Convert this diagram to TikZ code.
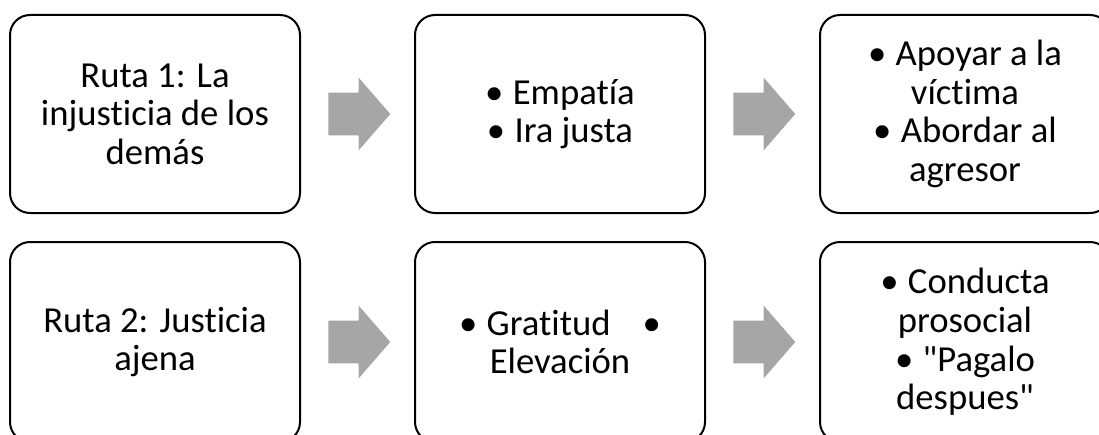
\documentclass[tikz,border=0pt]{standalone}
\usepackage{fontspec}
\setmainfont{Carlito}[Ligatures={NoCommon}]
\usetikzlibrary{shapes.arrows,calc}
\definecolor{arrowgray}{HTML}{A6A6A6}

\begin{document}
\begin{tikzpicture}[x=0.75pt,y=-0.75pt,node distance=303.75pt,
                    ruta node/.style={rectangle,draw,rounded corners=15pt,line width=1.5pt,
                      minimum width=217.5pt,minimum height=148.5pt,align=center,
                      font=\fontsize{27.5pt}{28.9pt}\selectfont},
                    gray arrow/.style={single arrow,fill=arrowgray,inner sep=0pt,anchor=tail,
                      minimum height=46.5pt,minimum width=54pt,
                      single arrow head extend=11.25pt,single arrow tip angle=98}]
  \useasboundingbox (0,0) rectangle (1099,435);
  % route 1
  \node[ruta node] (r1a) at (155,114) {Ruta 1: La\\injusticia de los\\demás};
  \node[ruta node] (r1b) [right of=r1a] {\textbullet\hspace{7pt}Empatía\\\textbullet\hspace{7pt}Ira justa};
  \node[ruta node] (r1c) [right of=r1b] {\textbullet\hspace{7pt}Apoyar a la\\víctima\\\textbullet\hspace{7pt}Abordar al\\agresor};
  % route 2
  \node[ruta node,minimum height=150pt] (r2a) [below of=r1a,node distance=171pt] {Ruta 2: Justicia\\ajena};
  \node[ruta node,minimum height=150pt] (r2b) [right of=r2a] {\textbullet\hspace{7pt}Gratitud\hspace{24pt}\textbullet\\Elevación};
  \node[ruta node,minimum height=150pt] (r2c) [right of=r2b] {\textbullet\hspace{7pt}Conducta\\prosocial\\\textbullet\hspace{7pt}\textquotedbl Pagalo\\despues\textquotedbl};
  % arrows
  \node[gray arrow] (a1) at ($(r1a.east)!0.5!(r1b.west)+(-29.5,0)$) {\rule{0pt}{31.5pt}};
  \node[gray arrow] (a2) at ($(r1b.east)!0.5!(r1c.west)+(-29.5,0)$) {\rule{0pt}{31.5pt}};
  \node[gray arrow] (a3) at ($(r2a.east)!0.5!(r2b.west)+(-29.5,0)$) {\rule{0pt}{31.5pt}};
  \node[gray arrow] (a4) at ($(r2b.east)!0.5!(r2c.west)+(-29.5,0)$) {\rule{0pt}{31.5pt}};
\end{tikzpicture}
\end{document}
